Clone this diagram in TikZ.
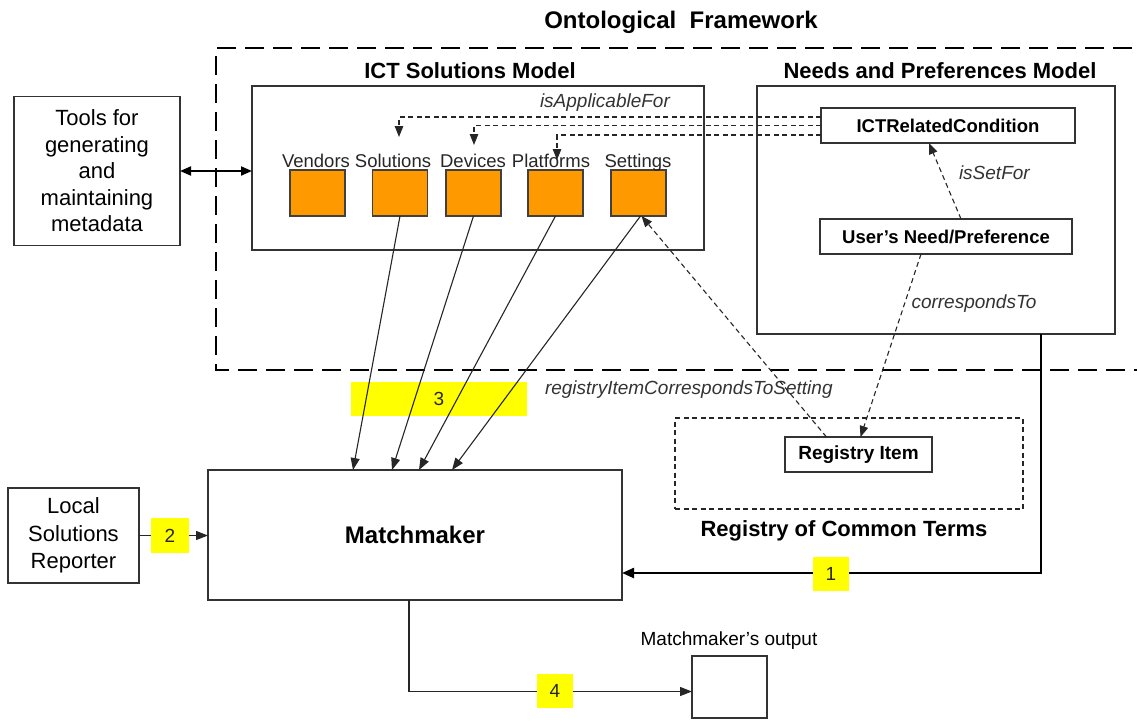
\documentclass[tikz,border=0pt]{standalone}
\usepackage{fontspec}
\setmainfont{Liberation Sans}
\usetikzlibrary{arrows.meta,calc}
\definecolor{sqorange}{HTML}{FF9900}
\definecolor{hlyellow}{HTML}{FFFF00}
\newcommand{\setfs}[2]{\fontsize{#1}{#2}\selectfont}

\begin{document}
\begin{tikzpicture}[x=1pt,y=-1pt,
  every node/.style={inner sep=0pt,outer sep=0pt},
  box/.style={draw=black!80,line width=1.3pt,align=center},
  sq/.style={draw=black!75,line width=1.1pt,fill=sqorange,minimum width=55pt,minimum height=46pt},
  hl/.style={fill=hlyellow,font=\setfs{19}{22},text=black!85},
  lbl/.style={font=\setfs{18.5}{21},anchor=base,text=black!85},
  rel/.style={font=\setfs{19}{22}\itshape,anchor=base west,text=black!80},
  hdr/.style={font=\setfs{22}{26}\bfseries,anchor=base},
  flow/.style={draw=black!85,line width=1.1pt,-{Triangle[length=12pt,width=9pt]}},
  link/.style={draw=black!85,line width=1.1pt,dash pattern=on 5pt off 3.5pt,-{Triangle[length=11pt,width=8.5pt]}},
  frame/.style={draw=black,line width=2.4pt,dash pattern=on 19pt off 9pt}]
\useasboundingbox (0,0) rectangle (1137,720);

% ontological framework frame (runs off to the right)
\draw[frame] (1160,48) -- (216,48) -- (216,370) -- (1160,370);
\node[font=\setfs{24}{28}\bfseries,anchor=base] (fwtitle) at (681,28.5) {Ontological\ \ Framework};

% models
\node[hdr] (ictttl) at (470,78) {ICT Solutions Model};
\node[box,minimum width=452pt,minimum height=164pt] (ict) at (478,168) {};
\node[hdr] (needsttl) at (940,78) {Needs and Preferences Model};
\node[box,minimum width=358pt,minimum height=248pt] (needs) at (936,210) {};

% tools box
\node[box,minimum width=166pt,minimum height=149pt,font=\setfs{22}{26.5}] (tools) at (97,171)
  {Tools for\\generating\\and\\maintaining\\metadata};

% ICT solution classes
\node[sq] (sq1) at (317.5,193) {};
\node[sq] (sq2) at (400,193) {};
\node[sq] (sq3) at (473.5,193) {};
\node[sq] (sq4) at (555.5,193) {};
\node[sq] (sq5) at (638.5,193) {};
\node[lbl] (lVen) at (316,167) {Vendors};
\node[lbl] (lSol) at (393,167) {Solutions};
\node[lbl] (lDev) at (473,167) {Devices};
\node[lbl] (lPla) at (551,167) {Platforms};
\node[lbl] (lSet) at (638,167) {Settings};
\node[rel] (rApp) at (540,107) {isApplicableFor};

% needs model classes
\node[box,minimum width=254pt,minimum height=35pt,font=\setfs{18.5}{22}\bfseries] (cond) at (948,125.5) {ICTRelatedCondition};
\node[box,minimum width=252pt,minimum height=35pt,font=\setfs{18.5}{22}\bfseries] (need) at (946,236.5) {User’s Need/Preference};
\node[rel] (rSet) at (959,179) {isSetFor};
\node[rel] (rCor) at (911.5,308) {correspondsTo};

% registry
\node[draw=black!85,line width=1.1pt,dash pattern=on 5pt off 3.5pt,minimum width=348pt,minimum height=91pt] (reg) at (849,463.5) {};
\node[box,minimum width=147pt,minimum height=35pt,font=\setfs{19}{22}\bfseries] (regitem) at (858.5,454.5) {Registry Item};
\node[hdr] (regttl) at (844,536) {Registry of Common Terms};
\node[rel] (rReg) at (545,394) {registryItemCorrespondsToSetting};

% matchmaker and neighbours
\node[box,minimum width=414pt,minimum height=130pt,font=\setfs{24}{28}\bfseries] (match) at (415,535) {Matchmaker};
\node[box,minimum width=131pt,minimum height=95pt,font=\setfs{22}{27.5}] (lsr) at (73.5,535.5) {Local\\Solutions\\Reporter};
\node[box,minimum width=75pt,minimum height=62pt] (out) at (729.5,687) {};
\node[font=\setfs{19}{22},anchor=base] (outttl) at (729,645) {Matchmaker’s output};

% step 3 marker sits under the arrows
\node[hl,minimum width=176pt,minimum height=34pt] (y3) at (439,399) {3};

% isApplicableFor links
\coordinate (aSol) at (399,137);
\coordinate (aDev) at (474,145);
\coordinate (aPla) at (557,160);
\draw[link] ([yshift=8.5pt]cond.west) -| (aSol);
\draw[link] (cond.west) -| (aDev);
\draw[link] ([yshift=-9.5pt]cond.west) -| (aPla);

% needs model relations
\draw[link] ([xshift=15pt]need.north) -- ([xshift=-19pt]cond.south);
\draw[link] ([xshift=-25pt]need.south) -- ([xshift=2pt]regitem.north);
\draw[link] ([xshift=-32pt]regitem.north) -- ([xshift=3pt]sq5.south);

% tools <-> ICT model
\draw[draw=black,line width=1.8pt,{Triangle[length=11pt,width=9pt]}-{Triangle[length=11pt,width=9pt]}]
  (tools.east) -- (tools.east -| ict.west);

% ICT classes to matchmaker
\draw[flow] (sq2.south) -- ([xshift=-62pt]match.north);
\draw[flow] (sq3.south) -- ([xshift=-23pt]match.north);
\draw[flow] (sq4.south) -- ([xshift=4pt]match.north);
\draw[flow] ([xshift=2pt]sq5.south) -- ([xshift=37pt]match.north);

% step 1, 2, 4 flows
\draw[flow,draw=black,line width=2.3pt,-{Triangle[length=12pt,width=10pt]}] ([xshift=105pt]needs.south) |- ([yshift=-38pt]match.east);
\draw[flow] (lsr.east) -- (lsr.east -| match.west);
\draw[flow] ([xshift=-6pt]match.south) |- ([yshift=-4.5pt]out.west);

\node[hl,minimum width=36pt,minimum height=34pt] (y1) at (831,574) {1};
\node[hl,minimum width=38pt,minimum height=35pt] (y2) at (170,535.5) {2};
\node[hl,minimum width=36pt,minimum height=34pt] (y4) at (555,691) {4};
\end{tikzpicture}
\end{document}
